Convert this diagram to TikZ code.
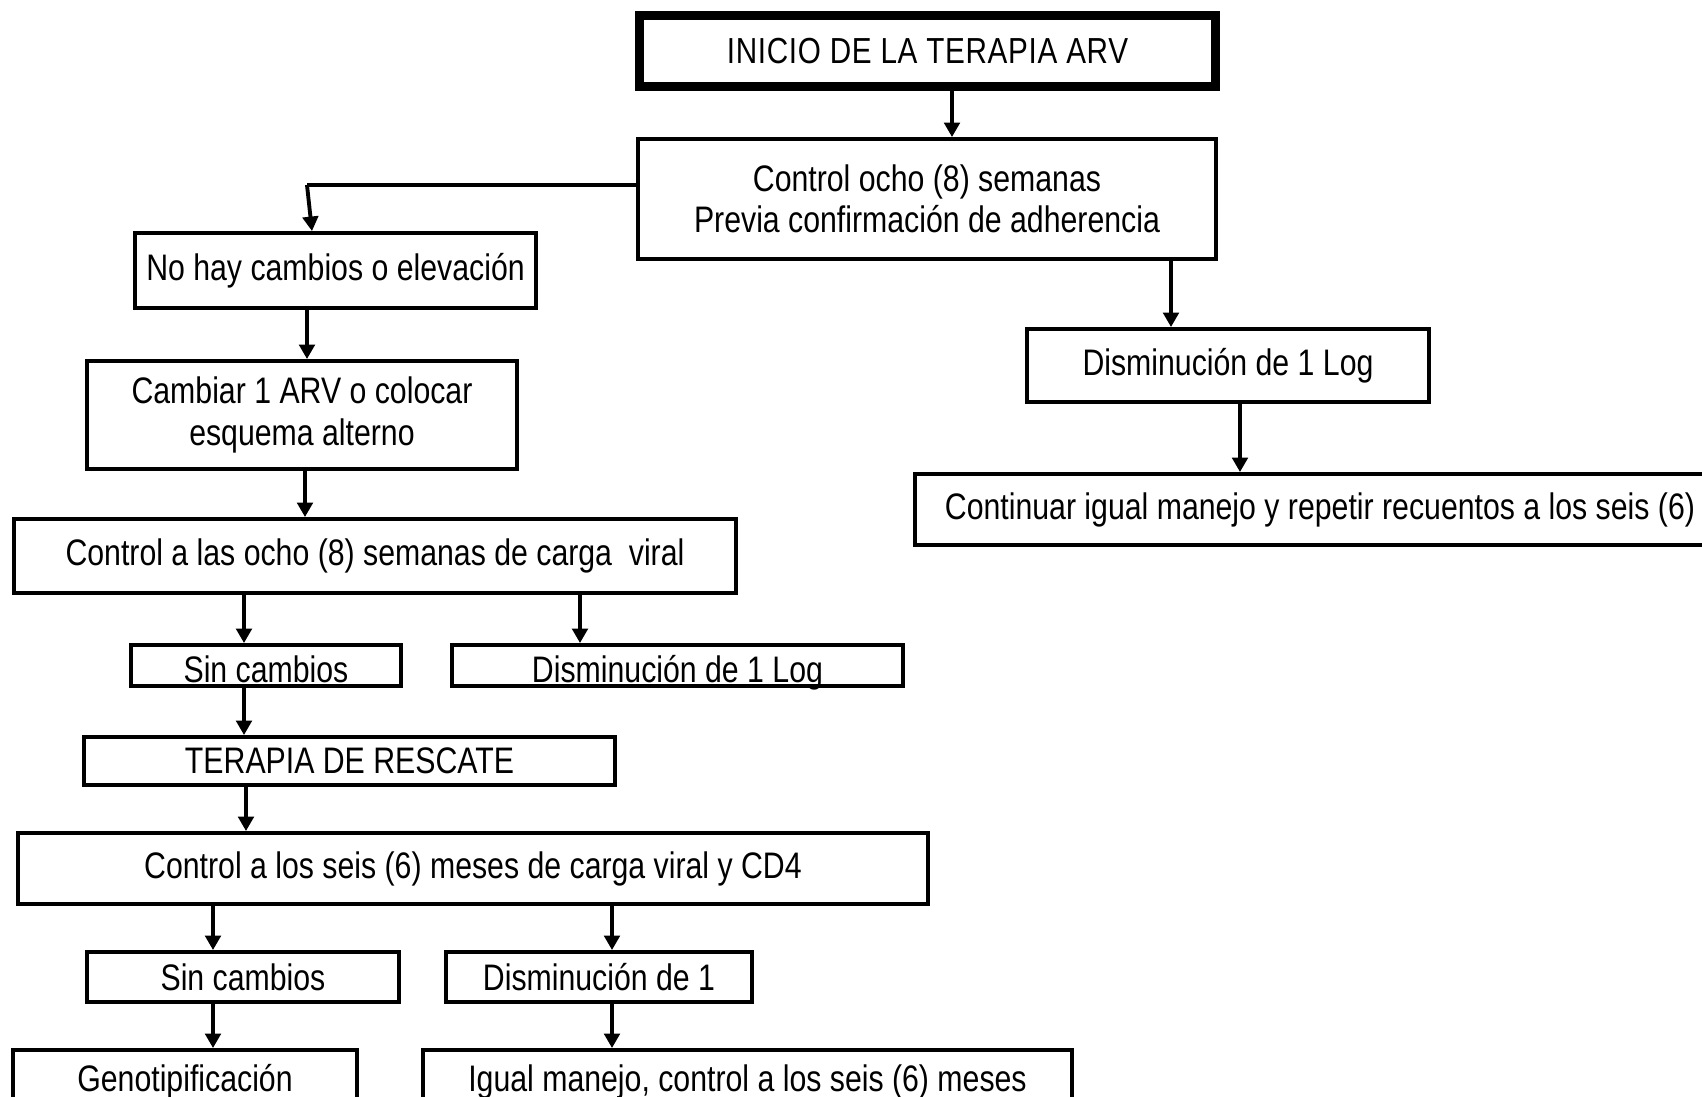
\documentclass[tikz,border=0pt]{standalone}
\usepackage{fontspec}
\setmainfont{Liberation Sans}[FakeStretch=0.82]
\newfontfamily\titlefont{Liberation Sans}[FakeStretch=0.82, LetterSpace=1.8]
\usetikzlibrary{arrows.meta}

\begin{document}
\begin{tikzpicture}[x=1cm, y=-1cm,
    box/.style={draw, rectangle, line width=1.1pt, inner sep=0pt, align=center,
        font=\fontsize{10.5}{11.8}\selectfont},
    lowtext/.style={text height=10.6pt, text depth=1pt},
    arr/.style={line width=1.1pt, -{Triangle[length=1.45mm,width=1.55mm]}}]
    \clip (0,0) rectangle (17.02,10.97);

    % Start
    \node[box, line width=2.6pt, minimum width=5.76cm, minimum height=0.71cm,
        font=\titlefont\fontsize{10.3}{11.8}\selectfont] (inicio) at (9.275,0.51) {INICIO DE LA TERAPIA ARV};
    \node[box, minimum width=5.78cm, minimum height=1.20cm] (ctrl) at (9.27,1.99)
        {Control ocho (8) semanas\\Previa confirmación de adherencia};

    % Left branch
    \coordinate (bend) at (3.07,1.85);
    \node[box, minimum width=4.01cm, minimum height=0.75cm] (nohay) at (3.355,2.705) {No hay cambios o elevación};
    \node[box, minimum width=4.30cm, minimum height=1.08cm] (cambiar) at (3.02,4.15)
        {Cambiar 1 ARV o colocar\\esquema alterno};
    \node[box, minimum width=7.22cm, minimum height=0.74cm] (carga8) at (3.75,5.56)
        {Control a las ocho (8) semanas de carga\ \ viral};
    \node[box, lowtext, minimum width=2.70cm, minimum height=0.41cm] (sc1) at (2.66,6.655) {Sin cambios};
    \node[box, lowtext, minimum width=4.51cm, minimum height=0.41cm] (dl1) at (6.775,6.655) {Disminución de 1 Log};
    \node[box, minimum width=5.31cm, minimum height=0.48cm] (resc) at (3.495,7.61) {TERAPIA DE RESCATE};
    \node[box, minimum width=9.10cm, minimum height=0.71cm] (c6) at (4.73,8.685)
        {Control a los seis (6) meses de carga viral y CD4};
    \node[box, minimum width=3.12cm, minimum height=0.50cm] (sc2) at (2.43,9.77) {Sin cambios};
    \node[box, minimum width=3.06cm, minimum height=0.50cm] (d1) at (5.99,9.77) {Disminución de 1};
    \node[box, minimum width=3.44cm, minimum height=0.64cm] (geno) at (1.85,10.82) {Genotipificación};
    \node[box, minimum width=6.49cm, minimum height=0.64cm] (igual) at (7.475,10.82)
        {Igual manejo, control a los seis (6) meses};

    % Right branch
    \node[box, minimum width=4.02cm, minimum height=0.73cm] (dr) at (12.28,3.655) {Disminución de 1 Log};
    \node[box, minimum width=8.10cm, minimum height=0.71cm] (cont) at (13.20,5.095)
        {Continuar igual manejo y repetir recuentos a los seis (6)};

    % Connections
    \draw[arr] ([xshift=0.245cm]inicio.south) -- ([xshift=0.25cm]ctrl.north);
    \draw[line width=1.1pt] (ctrl.west |- bend) -- (bend);
    \draw[arr] (bend) -- ([xshift=-0.235cm]nohay.north);
    \draw[arr] (nohay.south -| bend) -- (cambiar.north -| bend);
    \draw[arr] ([xshift=0.03cm]cambiar.south) -- ([xshift=-0.70cm]carga8.north);
    \draw[arr] ([xshift=-1.31cm]carga8.south) -- ([xshift=-0.22cm]sc1.north);
    \draw[arr] ([xshift=2.05cm]carga8.south) -- ([xshift=-0.975cm]dl1.north);
    \draw[arr] ([xshift=-0.22cm]sc1.south) -- ([xshift=-1.055cm]resc.north);
    \draw[arr] ([xshift=-1.035cm]resc.south) -- ([xshift=-2.27cm]c6.north);
    \draw[arr] ([xshift=-2.60cm]c6.south) -- ([xshift=-0.30cm]sc2.north);
    \draw[arr] ([xshift=1.39cm]c6.south) -- ([xshift=0.13cm]d1.north);
    \draw[arr] ([xshift=-0.30cm]sc2.south) -- ([xshift=0.28cm]geno.north);
    \draw[arr] ([xshift=0.13cm]d1.south) -- ([xshift=-1.355cm]igual.north);
    \draw[arr] ([xshift=2.44cm]ctrl.south) -- ([xshift=-0.57cm]dr.north);
    \draw[arr] ([xshift=0.12cm]dr.south) -- ([xshift=-0.80cm]cont.north);
\end{tikzpicture}
\end{document}
